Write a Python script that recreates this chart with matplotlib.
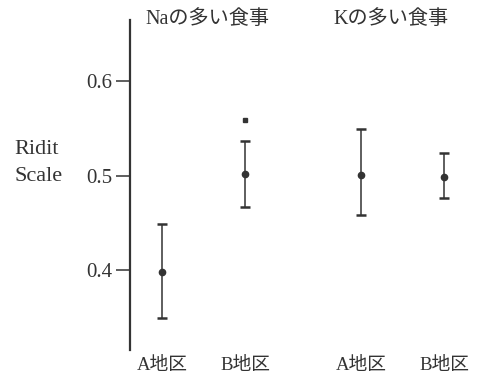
import numpy as np
import matplotlib
matplotlib.use("Agg")
import matplotlib.pyplot as plt
import matplotlib.transforms as mtransforms

plt.rcParams['font.family'] = ['Liberation Serif', 'Noto Sans CJK JP', 'DejaVu Sans']

# data
groups = ['Naの多い食事', 'Kの多い食事']
regions = ['A地区', 'B地区', 'A地区', 'B地区']
mean = [0.398, 0.502, 0.501, 0.499]
upper = [0.449, 0.537, 0.549, 0.524]
lower = [0.349, 0.467, 0.458, 0.476]
star_y = 0.559   # significance mark over B地区 (Na)

xpos = np.array([0, 1, 2.4, 3.4])
ink = '#333333'

fig = plt.figure(figsize=(4.81, 3.75), dpi=100)
ax = fig.add_axes([130/481, 25/375, 351/481, 330/375])

yerr = [np.array(mean) - np.array(lower), np.array(upper) - np.array(mean)]
ax.errorbar(xpos, mean, yerr=yerr, fmt='o', color=ink, ms=4.5, elinewidth=1.1,
            capsize=3.5, capthick=1.8)
ax.plot(xpos[1], star_y, marker='s', ms=3.5, color=ink, ls='none')

ax.set_xlim(-32/83, 319/83)
ax.set_ylim(0.315, 0.665)
ax.set_yticks([0.4, 0.5, 0.6])
ax.set_yticklabels(['0.4', '0.5', '0.6'])
ax.tick_params(axis='y', direction='out', length=10, width=1.1, pad=3,
               labelsize=15, colors=ink)
ax.set_xticks(xpos)
ax.set_xticklabels(regions)
ax.tick_params(axis='x', length=0, pad=5, labelsize=13.5, colors=ink)

for s in ['top', 'right', 'bottom']:
    ax.spines[s].set_visible(False)
ax.spines['left'].set_color(ink)
ax.spines['left'].set_linewidth(1.6)

trans = mtransforms.blended_transform_factory(ax.transData, ax.transAxes)
ax.text(0.55, 1.0, groups[0], transform=trans, ha='center', va='center',
        fontsize=14.5, color=ink)
ax.text(2.76, 1.0, groups[1], transform=trans, ha='center', va='center',
        fontsize=14.5, color=ink)

fig.text(14/481, 0.565, 'Ridit\nScale', ha='left', va='center', fontsize=16,
         linespacing=1.6, color=ink)

fig.savefig('out.png', dpi=100)
